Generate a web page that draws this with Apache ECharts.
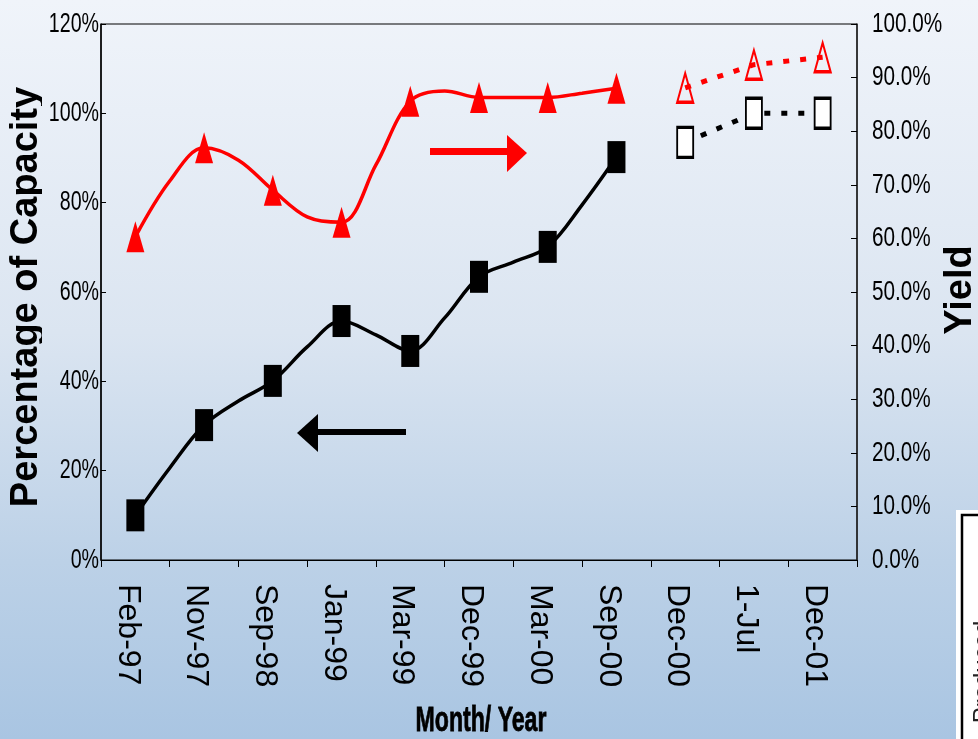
<!DOCTYPE html>
<html>
<head>
<meta charset="utf-8">
<script src="https://cdn.jsdelivr.net/npm/echarts@6/dist/echarts.min.js"></script>
<style>
  html, body { margin: 0; padding: 0; }
  #chart { width: 978px; height: 739px; }
</style>
</head>
<body>
<div id="chart"></div>
<script>
// Month / year categories on the x axis
const categories = ['Feb-97', 'Nov-97', 'Sep-98', 'Jan-99', 'Mar-99', 'Dec-99', 'Mar-00', 'Sep-00', 'Dec-00', '1-Jul', 'Dec-01'];

// Percentage of capacity (left axis), measured points Feb-97 .. Sep-00
const capacityActual = [10, 30.2, 40.1, 53.5, 46.8, 63.4, 70.1, 90.2];
// readings half-way between consecutive measured points
const capacityBetween = [20.6, 35.6, 47.7, 50.4, 54.2, 66.7, 79.5];
// projected capacity, Dec-00 .. Dec-01
const capacityForecast = [93.5, 100, 100];

// Yield (right axis), measured points Feb-97 .. Sep-00
const yieldActual = [60.3, 76.9, 69, 63, 85.6, 86.3, 86.3, 88];
const yieldBetween = [70.7, 74.6, 64, 73.7, 87.5, 86.3, 87.1];
// projected yield, Dec-00 .. Dec-01
const yieldForecast = [88.1, 92.4, 93.8];

// Tick values for both value axes
const leftTicks = [0, 20, 40, 60, 80, 100, 120];
const rightTicks = [0, 10, 20, 30, 40, 50, 60, 70, 80, 90, 100];

const baseFont = "'Liberation Sans', Arial, sans-serif";

// merge measured points with the half-step readings into one smooth path
function interleave(actual, between) {
  const out = [];
  actual.forEach((v, i) => {
    out.push([i, v]);
    if (i < between.length) out.push([i + 0.5, between[i]]);
  });
  return out;
}
const firstForecast = capacityActual.length;
const toPoints = (arr, start) => arr.map((v, i) => [start + i, v]);

const bgStops = [
  { offset: 0, color: '#f0f4fa' },
  { offset: 0.45, color: '#dbe5f1' },
  { offset: 0.76, color: '#bcd1e7' },
  { offset: 1, color: '#a9c5e2' }
];

const chart = echarts.init(document.getElementById('chart'), null, { renderer: 'canvas' });

const staticGraphics = [
  // axis titles
  {
    type: 'text', x: 27, y: 297, rotation: Math.PI / 2,
    style: { text: 'Percentage of Capacity', font: 'bold 38px ' + baseFont, fill: '#000', textAlign: 'center', textVerticalAlign: 'middle' },
    z: 10
  },
  {
    // trims the descenders of the rotated title, as in the source layout
    type: 'rect', shape: { x: 42, y: 70, width: 7, height: 460 },
    style: { fill: { type: 'linear', x: 0, y: 0, x2: 0, y2: 739, global: true, colorStops: bgStops } },
    z: 11
  },
  {
    type: 'text', x: 961, y: 290, rotation: Math.PI / 2,
    style: { text: 'Yield', font: 'bold 38px ' + baseFont, fill: '#000', textAlign: 'center', textVerticalAlign: 'middle' },
    z: 10
  },
  {
    type: 'text', x: 481, y: 721, scaleX: 0.66,
    style: { text: 'Month/ Year', font: 'bold 35px ' + baseFont, fill: '#000', textAlign: 'center', textVerticalAlign: 'middle', stroke: '#000', lineWidth: 0.8 },
    z: 10
  },
  // direction arrows: yield reads on the right axis, capacity on the left
  {
    type: 'rect', shape: { x: 430, y: 148, width: 78, height: 7 },
    style: { fill: '#ff0000' }, z: 6
  },
  {
    type: 'polygon', shape: { points: [[507, 135], [527, 153], [507, 172]] },
    style: { fill: '#ff0000' }, z: 6
  },
  {
    type: 'rect', shape: { x: 317, y: 429, width: 89, height: 6 },
    style: { fill: '#000' }, z: 6
  },
  {
    type: 'polygon', shape: { points: [[297, 433], [318, 414], [318, 452]] },
    style: { fill: '#000' }, z: 6
  },
  // edge of the neighbouring note box
  {
    type: 'rect', shape: { x: 956, y: 510, width: 40, height: 240 },
    style: { fill: '#ffffff' }, z: 6
  },
  {
    type: 'rect', shape: { x: 962, y: 515, width: 40, height: 240 },
    style: { fill: '#ffffff', stroke: '#000', lineWidth: 2.5 }, z: 7
  },
  {
    type: 'text', x: 983, y: 672, rotation: Math.PI / 2,
    style: { text: 'Produced', font: '24px ' + baseFont, fill: '#222', textAlign: 'center', textVerticalAlign: 'middle' },
    z: 8
  }
];

chart.setOption({
  animation: false,
  backgroundColor: { type: 'linear', x: 0, y: 0, x2: 0, y2: 1, colorStops: bgStops },
  grid: {
    left: 101, right: 121, top: 24, bottom: 179,
    show: true, borderColor: '#000', borderWidth: 1, backgroundColor: 'transparent',
    containLabel: false, outerBoundsMode: 'none'
  },
  xAxis: [
    {
      type: 'category',
      data: categories,
      boundaryGap: true,
      axisLine: { show: true, onZero: false, lineStyle: { color: '#000', width: 1 } },
      axisTick: { show: true, interval: 0, length: 7, lineStyle: { color: '#000' } },
      axisLabel: { show: false },
      splitLine: { show: false }
    },
    {
      type: 'value', min: -0.5, max: 10.5, show: false,
      axisLine: { show: false, onZero: false }
    }
  ],
  yAxis: [
    {
      type: 'value', min: leftTicks[0], max: leftTicks[leftTicks.length - 1], interval: 20,
      position: 'left',
      axisLine: { show: true, onZero: false, lineStyle: { color: '#000', width: 1.5 } },
      axisTick: { show: true, inside: true, length: 5, lineStyle: { color: '#000' } },
      axisLabel: { show: false },
      splitLine: { show: false }
    },
    {
      type: 'value', min: rightTicks[0], max: rightTicks[rightTicks.length - 1], interval: 10,
      position: 'right',
      axisLine: { show: true, onZero: false, lineStyle: { color: '#222', width: 1.5 } },
      axisTick: { show: true, inside: true, length: 6, lineStyle: { color: '#000' } },
      axisLabel: { show: false },
      splitLine: { show: false }
    }
  ],
  series: [
    {
      name: 'Capacity', type: 'line', xAxisIndex: 1, yAxisIndex: 0,
      data: interleave(capacityActual, capacityBetween),
      smooth: 0.35, showSymbol: false, symbol: 'none',
      lineStyle: { color: '#000', width: 3.5 }, z: 3
    },
    {
      name: 'Capacity points', type: 'scatter', xAxisIndex: 1, yAxisIndex: 0,
      data: toPoints(capacityActual, 0),
      symbol: 'rect', symbolSize: [18, 32],
      itemStyle: { color: '#000', opacity: 1 }, z: 5
    },
    {
      name: 'Capacity projected', type: 'line', xAxisIndex: 1, yAxisIndex: 0,
      data: toPoints(capacityForecast, firstForecast),
      symbol: 'rect', symbolSize: [16, 30], showSymbol: true,
      itemStyle: { color: '#fff', borderColor: '#000', borderWidth: 2.5, opacity: 1 },
      lineStyle: { color: '#000', width: 5, type: [6, 11], cap: 'butt' }, z: 5
    },
    {
      name: 'Yield', type: 'line', xAxisIndex: 1, yAxisIndex: 1,
      data: interleave(yieldActual, yieldBetween),
      smooth: 0.35, showSymbol: false, symbol: 'none',
      lineStyle: { color: '#ff0000', width: 3.5 }, z: 3
    },
    {
      name: 'Yield points', type: 'scatter', xAxisIndex: 1, yAxisIndex: 1,
      data: toPoints(yieldActual, 0),
      symbol: 'triangle', symbolSize: [18, 31],
      itemStyle: { color: '#ff0000', opacity: 1 }, z: 5
    },
    {
      name: 'Yield projected', type: 'line', xAxisIndex: 1, yAxisIndex: 1,
      data: toPoints(yieldForecast, firstForecast),
      symbol: 'triangle', symbolSize: [16, 29], showSymbol: true,
      itemStyle: { color: 'rgba(0,0,0,0)', borderColor: '#ff0000', borderWidth: 2.5, opacity: 1 },
      lineStyle: { color: '#ff0000', width: 5, type: [6, 11], cap: 'butt' }, z: 5
    }
  ],
  graphic: staticGraphics
});

// Axis tick labels: positions come from the axis scales
const leftEdge = chart.convertToPixel({ xAxisIndex: 1 }, -0.5);
const rightEdge = chart.convertToPixel({ xAxisIndex: 1 }, 10.5);
const axisBottom = chart.convertToPixel({ yAxisIndex: 0 }, leftTicks[0]);
const tickLabels = [];
leftTicks.forEach(v => {
  tickLabels.push({
    type: 'text', x: leftEdge - 2, y: chart.convertToPixel({ yAxisIndex: 0 }, v), scaleX: 0.7,
    style: { text: v + '%', font: '28px ' + baseFont, fill: '#000', textAlign: 'right', textVerticalAlign: 'middle' },
    z: 12
  });
});
rightTicks.forEach(v => {
  tickLabels.push({
    type: 'text', x: rightEdge + 15, y: chart.convertToPixel({ yAxisIndex: 1 }, v), scaleX: 0.74,
    style: { text: v.toFixed(1) + '%', font: '28px ' + baseFont, fill: '#000', textAlign: 'left', textVerticalAlign: 'middle' },
    z: 12
  });
});
categories.forEach((name, i) => {
  tickLabels.push({
    type: 'text', x: chart.convertToPixel({ xAxisIndex: 1 }, i) - 8, y: axisBottom + 24, rotation: -Math.PI / 2,
    style: { text: name, font: '32px ' + baseFont, fill: '#000', textAlign: 'left', textVerticalAlign: 'middle' },
    z: 12
  });
});
chart.setOption({ graphic: staticGraphics.concat(tickLabels) });
</script>
</body>
</html>
